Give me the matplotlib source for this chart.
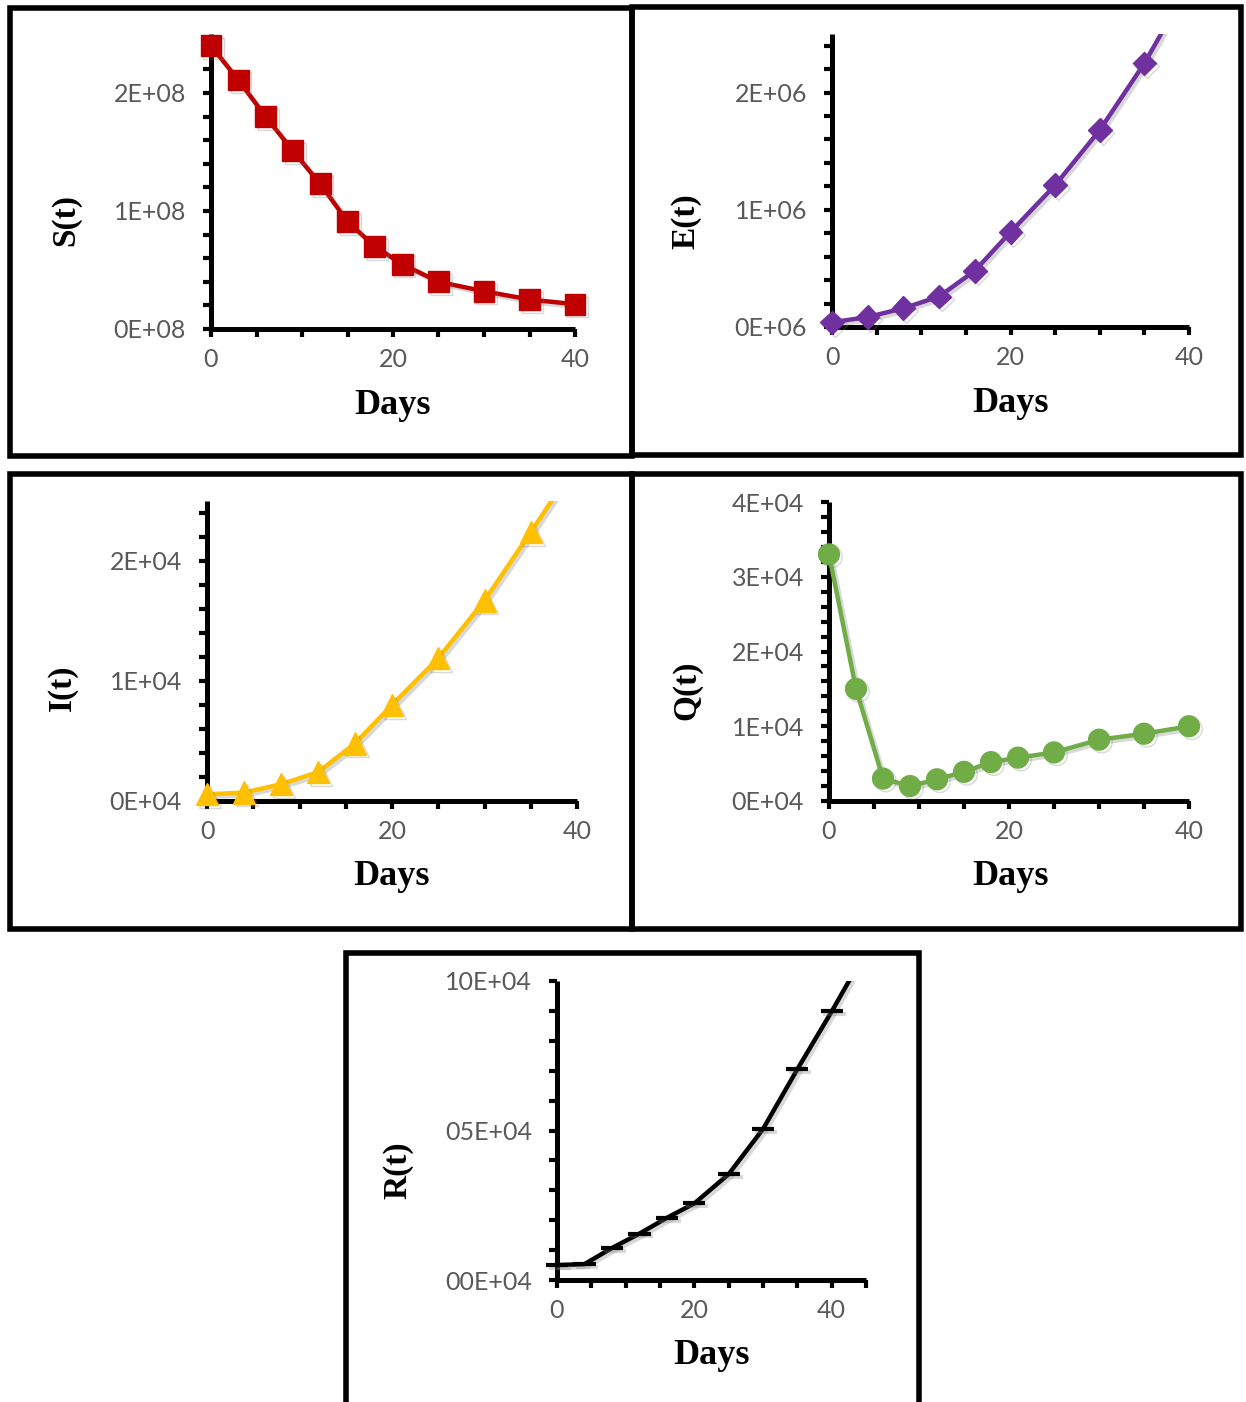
import matplotlib
matplotlib.use('Agg')
import matplotlib.pyplot as plt
import matplotlib.patheffects as pe
from matplotlib.patches import Rectangle
from matplotlib.ticker import FuncFormatter, MultipleLocator

# S, E, I, Q, R compartments over 40 days
s_days = [0, 3, 6, 9, 12, 15, 18, 21, 25, 30, 35, 40]
s_values = [2.40e8, 2.11e8, 1.80e8, 1.51e8, 1.23e8, 0.91e8, 0.70e8, 0.55e8,
            0.40e8, 0.32e8, 0.25e8, 0.21e8]

e_days = [0, 4, 8, 12, 16, 20, 25, 30, 35, 40]
e_values = [0.04e6, 0.085e6, 0.16e6, 0.26e6, 0.48e6, 0.81e6, 1.21e6, 1.68e6,
            2.25e6, 2.92e6]

i_days = [0, 4, 8, 12, 16, 20, 25, 30, 35, 40]
i_values = [0.056e4, 0.07e4, 0.14e4, 0.24e4, 0.48e4, 0.80e4, 1.19e4, 1.67e4,
            2.24e4, 2.82e4]

q_days = [0, 3, 6, 9, 12, 15, 18, 21, 25, 30, 35, 40]
q_values = [3.30e4, 1.50e4, 0.30e4, 0.20e4, 0.29e4, 0.39e4, 0.52e4, 0.58e4,
            0.65e4, 0.82e4, 0.90e4, 1.00e4]

r_days = [0, 4, 8, 12, 16, 20, 25, 30, 35, 40, 45]
r_values = [0.50e4, 0.53e4, 1.07e4, 1.55e4, 2.08e4, 2.56e4, 3.54e4, 5.05e4,
            7.05e4, 8.98e4, 11.0e4]

W, H = 1246, 1402
fig = plt.figure(figsize=(W / 100, H / 100), dpi=100)

TICK_FONT = 'Lato'
LABEL_FONT = 'Liberation Serif'
shadow = [pe.SimpleLineShadow(offset=(2, -2), shadow_color='0.5', alpha=0.3), pe.Normal()]


def px_rect(left, right, bottom, top):
    return [left / W, 1 - bottom / H, (right - left) / W, (bottom - top) / H]


def draw_panel(rect, days, values, color, marker, msize, ylabel, ymax, ystep,
               yminor, exp, xmax, ylab_pos, xlab_pos, width=1, mew=1):
    ax = fig.add_axes(rect)
    ax.plot(days, values, color=color, lw=3.2, solid_joinstyle='round',
            zorder=3, path_effects=shadow)
    # markers above the axis top are left out, the rest may spill past the spines
    shown_d = [d for d, v in zip(days, values) if v <= ymax]
    shown_v = [v for v in values if v <= ymax]
    ax.plot(shown_d, shown_v, ls='none', marker=marker, ms=msize, color=color,
            mew=mew, clip_on=False, zorder=4, path_effects=shadow)
    ax.set_xlim(0, xmax)
    ax.set_ylim(0, ymax)
    for side in ['top', 'right']:
        ax.spines[side].set_visible(False)
    for side in ['left', 'bottom']:
        ax.spines[side].set_linewidth(3.6)
        ax.spines[side].set_capstyle('butt')
    ax.xaxis.set_major_locator(MultipleLocator(20))
    ax.xaxis.set_minor_locator(MultipleLocator(5))
    ax.yaxis.set_major_locator(MultipleLocator(ystep))
    ax.yaxis.set_minor_locator(MultipleLocator(yminor))
    scale = 10 ** exp
    ax.yaxis.set_major_formatter(FuncFormatter(
        lambda v, p: f"{v / scale:0{width}.0f}E+{exp:02d}"))
    ax.tick_params(which='both', direction='out', length=6, width=3, color='black')
    ax.tick_params(axis='y', which='major', pad=12, labelsize=18, labelcolor='#595959')
    ax.tick_params(axis='x', which='major', pad=8, labelsize=18, labelcolor='#595959')
    for lab in ax.get_xticklabels() + ax.get_yticklabels():
        lab.set_fontfamily(TICK_FONT)
    ax.text(ylab_pos[0], ylab_pos[1], ylabel, transform=ax.transAxes, rotation=90,
            ha='center', va='center', fontsize=24, fontweight='bold', family=LABEL_FONT)
    ax.text(xlab_pos[0], xlab_pos[1], 'Days', transform=ax.transAxes,
            ha='center', va='center', fontsize=26, fontweight='bold', family=LABEL_FONT)
    ax.patch.set_alpha(0)
    return ax


# panel frames
frame_lw = 4.0
frames = [(10, 632, 456, 8), (632, 1241, 455, 7), (10, 632, 929, 474),
          (632, 1241, 929, 474), (346, 919, 1420, 953)]
for left, right, bottom, top in frames:
    fig.add_artist(Rectangle((left / W, 1 - bottom / H), (right - left) / W,
                             (bottom - top) / H, transform=fig.transFigure,
                             fill=False, edgecolor='black', lw=frame_lw,
                             joinstyle='miter', zorder=0))

draw_panel(px_rect(211, 575, 329, 34), s_days, s_values, '#C00000', 's', 15,
           'S(t)', 2.5e8, 1e8, 0.2e8, 8, 40, (-0.40, 0.37), (0.50, -0.26))
draw_panel(px_rect(832, 1189, 327, 34), e_days, e_values, '#7030A0', 'D', 12,
           'E(t)', 2.5e6, 1e6, 0.2e6, 6, 40, (-0.41, 0.36), (0.50, -0.262))
draw_panel(px_rect(207, 577, 801, 501), i_days, i_values, '#FFC000', '^', 16,
           'I(t)', 2.5e4, 1e4, 0.2e4, 4, 40, (-0.39, 0.377), (0.50, -0.253))
draw_panel(px_rect(829, 1189, 801, 502), q_days, q_values, '#70AD47', 'o', 15,
           'Q(t)', 4e4, 1e4, 0.2e4, 4, 40, (-0.394, 0.371), (0.503, -0.254))
draw_panel(px_rect(557, 866, 1280, 981), r_days, r_values, 'black', '_', 16,
           'R(t)', 10e4, 5e4, 1e4, 4, 45, (-0.515, 0.368), (0.50, -0.251),
           width=2, mew=3)

fig.savefig('out.png', dpi=100)
